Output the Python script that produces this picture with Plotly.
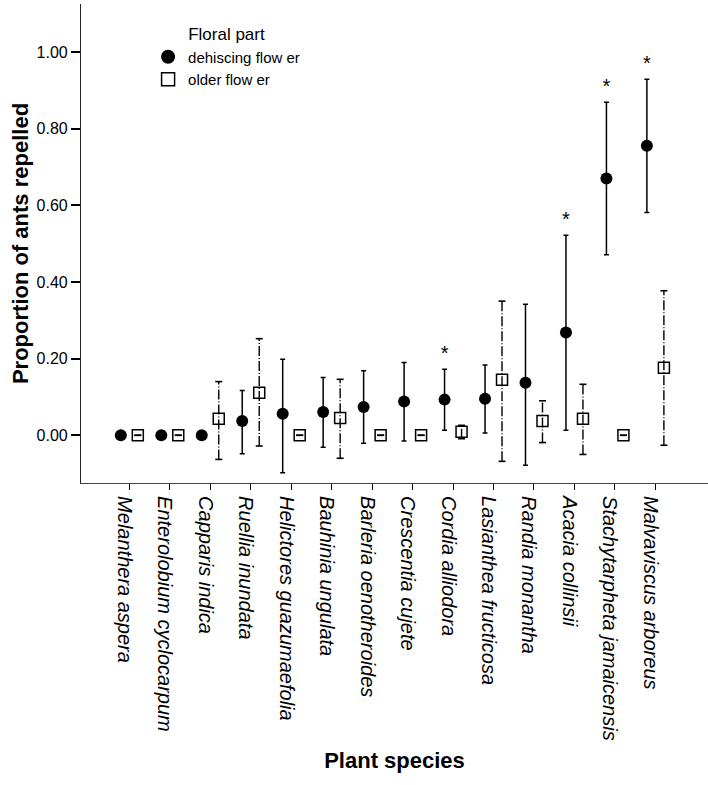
import plotly.graph_objects as go

species = ["Melanthera aspera", "Enterolobium cyclocarpum", "Capparis indica", "Ruellia inundata",
           "Helictores guazumaefolia", "Bauhinia ungulata", "Barleria oenotheroides", "Crescentia cujete",
           "Cordia alliodora", "Lasianthea fructicosa", "Randia monantha", "Acacia collinsii",
           "Stachytarpheta jamaicensis", "Malvaviscus arboreus"]

# dehiscing flower: mean, upper and lower limits of the error bar
dehisc_mean = [0.0, 0.0, 0.0, 0.037, 0.056, 0.061, 0.074, 0.088, 0.093, 0.095, 0.137, 0.268, 0.670, 0.755]
dehisc_hi   = [0.0, 0.0, 0.0, 0.117, 0.198, 0.151, 0.168, 0.190, 0.172, 0.183, 0.342, 0.522, 0.869, 0.929]
dehisc_lo   = [0.0, 0.0, 0.0, -0.048, -0.098, -0.031, -0.021, -0.015, 0.013, 0.006, -0.078, 0.013, 0.471, 0.581]

# older flower
older_mean = [0.0, 0.0, 0.043, 0.111, 0.0, 0.045, 0.0, 0.0, 0.009, 0.145, 0.037, 0.043, 0.0, 0.176]
older_hi   = [0.0, 0.0, 0.140, 0.252, 0.0, 0.146, 0.0, 0.0, 0.026, 0.350, 0.090, 0.133, 0.0, 0.377]
older_lo   = [0.0, 0.0, -0.063, -0.028, 0.0, -0.060, 0.0, 0.0, -0.009, -0.068, -0.019, -0.050, 0.0, -0.026]

# categories marked significant (*)
significant = ["Cordia alliodora", "Acacia collinsii", "Stachytarpheta jamaicensis", "Malvaviscus arboreus"]

y_ticks = [0.0, 0.2, 0.4, 0.6, 0.8, 1.0]
y_tick_labels = ["0.00", "0.20", "0.40", "0.60", "0.80", "1.00"]

FONT = "Liberation Sans, Arial, Helvetica, sans-serif"
OFF = 0.21
idx = list(range(len(species)))
xd = [i - OFF for i in idx]
xo = [i + OFF for i in idx]

fig = go.Figure()

# dashed error bars for older flower
lx, ly = [], []
for x, lo, hi in zip(xo, older_lo, older_hi):
    lx += [x, x, None]
    ly += [lo, hi, None]
fig.add_trace(go.Scatter(x=lx, y=ly, mode="lines", showlegend=False, hoverinfo="skip",
                         line=dict(color="black", width=1.4, dash="10px,2px,1px,2px")))
fig.add_trace(go.Scatter(x=xo + xo, y=older_lo + older_hi, mode="markers", showlegend=False,
                         hoverinfo="skip",
                         marker=dict(symbol="line-ew", size=5, color="black",
                                     line=dict(color="black", width=1.6))))

# dehiscing flower with solid error bars
fig.add_trace(go.Scatter(
    x=xd, y=dehisc_mean, mode="markers", showlegend=False,
    marker=dict(symbol="circle", size=12, color="black"),
    error_y=dict(type="data", symmetric=False,
                 array=[h - m for h, m in zip(dehisc_hi, dehisc_mean)],
                 arrayminus=[m - l for m, l in zip(dehisc_mean, dehisc_lo)],
                 color="black", thickness=1.5, width=2.5)))

# older flower markers
fig.add_trace(go.Scatter(x=xo, y=older_mean, mode="markers", showlegend=False,
                         marker=dict(symbol="square-open", size=11, color="black",
                                     line=dict(color="black", width=1.5))))

# significance stars
sx = [xd[species.index(s)] for s in significant]
sy = [dehisc_hi[species.index(s)] + 0.037 for s in significant]
fig.add_trace(go.Scatter(x=sx, y=sy, mode="text", text=["*"] * len(sx), showlegend=False,
                         textposition="middle center", hoverinfo="skip",
                         textfont=dict(family=FONT, size=20, color="black")))

# legend entries
fig.add_trace(go.Scatter(x=[None], y=[None], mode="markers", name="dehiscing flow er",
                         marker=dict(symbol="circle", size=14, color="black")))
fig.add_trace(go.Scatter(x=[None], y=[None], mode="markers", name="older flow er",
                         marker=dict(symbol="square-open", size=13, color="black",
                                     line=dict(color="black", width=1.5))))

fig.update_layout(
    width=708, height=785,
    margin=dict(l=81, r=0, t=4, b=302, autoexpand=False),
    plot_bgcolor="white", paper_bgcolor="white",
    font=dict(family=FONT, color="black"),
    legend=dict(x=0.107, y=0.97, xanchor="left", yanchor="top",
                bgcolor="rgba(0,0,0,0)", font=dict(size=15, family=FONT),
                title=dict(text="Floral part", side="top center", font=dict(size=17, family=FONT)),
                tracegroupgap=0, itemwidth=30),
    xaxis=dict(range=[-1.194, 14.30], tickmode="array", tickvals=idx, ticktext=species,
               tickangle=90, showline=True, linecolor="#444", linewidth=1.2,
               ticks="outside", ticklen=6, tickcolor="black", tickwidth=1.2,
               showgrid=False, zeroline=False, automargin=False,
               tickfont=dict(family=FONT, size=20, style="italic"),
               ticklabelshift=-5, ticklabelstandoff=2,
               title=dict(text="<b>Plant species</b>", font=dict(size=22, family=FONT), standoff=12)),
    yaxis=dict(range=[-0.1245, 1.125], tickmode="array", tickvals=y_ticks, ticktext=y_tick_labels,
               showline=True, linecolor="#222", linewidth=1.2,
               ticks="outside", ticklen=9, tickcolor="black", tickwidth=1.5,
               showgrid=False, zeroline=False, automargin=False,
               tickfont=dict(family=FONT, size=16),
               title=dict(text="<b>Proportion of ants repelled</b>", font=dict(size=22, family=FONT),
                          standoff=1)),
)

fig.write_html("out.html", config={"displayModeBar": False},
               post_script="document.body.style.margin='0';")
